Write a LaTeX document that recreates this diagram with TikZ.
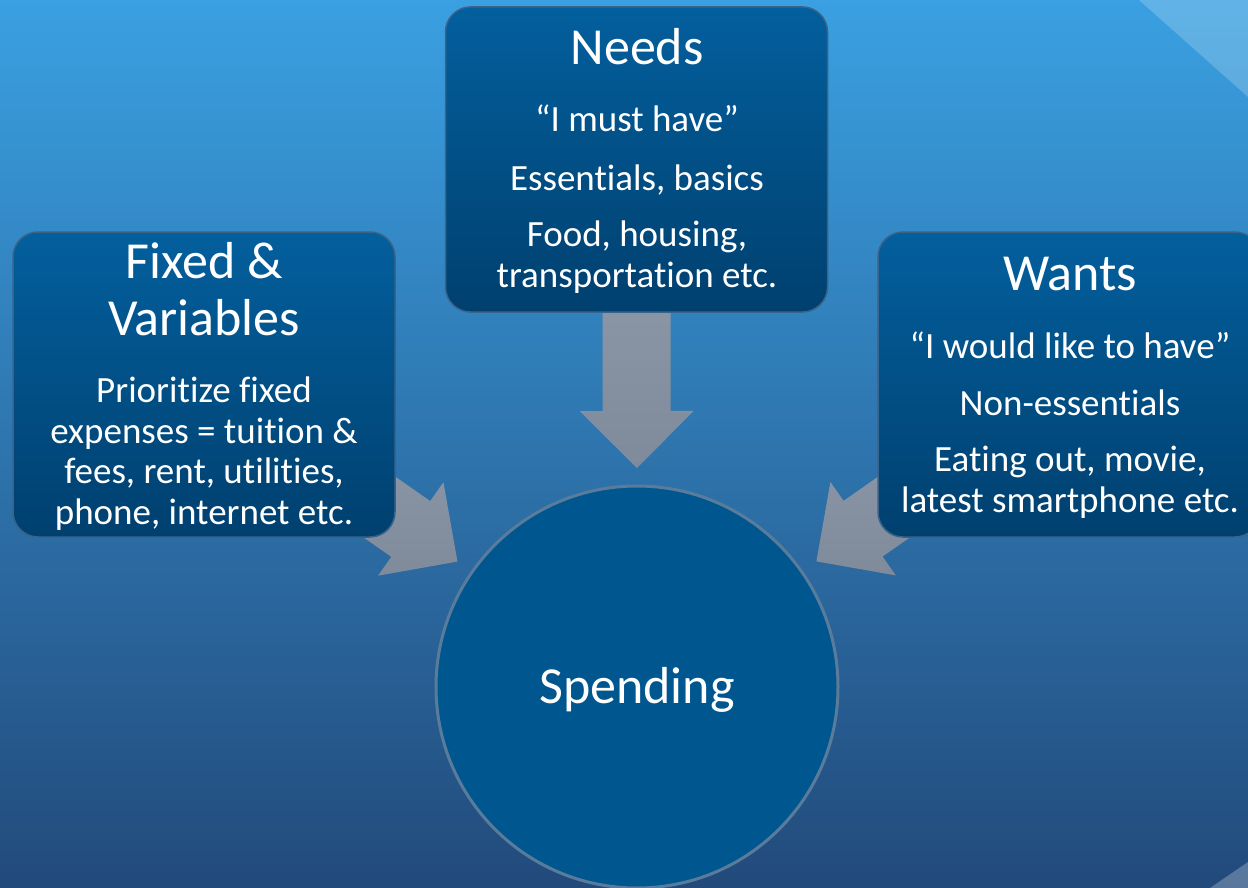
\documentclass[tikz,border=0pt]{standalone}
\usepackage{fontspec}
\setmainfont{Carlito}[Ligatures=NoCommon]
\usetikzlibrary{calc}
\definecolor{bgtop}{HTML}{3AA0E1}
\definecolor{bgbot}{HTML}{224A7B}
\definecolor{boxtop}{HTML}{035F9D}
\definecolor{boxbot}{HTML}{00406F}
\definecolor{boxrim}{HTML}{3A6389}
\definecolor{spendfill}{HTML}{00568F}
\definecolor{spendrim}{HTML}{5A7C9C}
\definecolor{arrtop}{HTML}{939FAF}
\definecolor{arrbot}{HTML}{7F8B9B}
\pgfdeclarelayer{bg}
\pgfsetlayers{bg,main}
\newcommand{\headfont}{\fontsize{52}{57}\selectfont}
\newcommand{\bodyfont}{\fontsize{37}{40.5}\selectfont}
% block arrow from the centre of box #1 towards circle #2
\newcommand{\blockarrow}[2]{%
  \coordinate (#1-tip) at ($(#2.center)!219pt!(#1.center)$);
  \coordinate (#1-head) at ($(#1-tip)!57pt!(#1.center)$);
  \shade[arrowfill] ($(#1.center)!34pt!90:(#1-tip)$) -- ($(#1-head)!34pt!90:(#1-tip)$)
    -- ($(#1-head)!57pt!90:(#1-tip)$) -- (#1-tip) -- ($(#1-head)!57pt!-90:(#1-tip)$)
    -- ($(#1-head)!34pt!-90:(#1-tip)$) -- ($(#1.center)!34pt!-90:(#1-tip)$) -- cycle;}
\begin{document}
\begin{tikzpicture}[x=1pt,y=-1pt,
  box/.style={rounded corners=25pt,minimum width=382pt,minimum height=305pt,top color=boxtop,bottom color=boxbot,draw=boxrim,line width=1.5pt},
  txt/.style={text=white,inner sep=0pt,anchor=base,align=center},
  arrowfill/.style={top color=arrtop,bottom color=arrbot}]
	\useasboundingbox (0,0) rectangle (1248,888);
	\clip (0,0) rectangle (1248,888);
	\node[box] (needs) at (636.5,159.5) {};
	\node[box] (fix) at (204,384.5) {};
	\node[box] (wants) at (1069,384.5) {};
	\node[circle,minimum size=402pt,fill=spendfill,draw=spendrim,line width=3pt,text=white,font=\headfont,text height=42pt,text depth=10pt] (spend) at (637,687) {Spending};
	% texts of the boxes (base = baseline of the last line)
	\node[txt,font=\headfont] (needs-title) at (637,65) {Needs};
	\node[txt,font=\bodyfont] (needs-a) at (637,132) {“I must have”};
	\node[txt,font=\bodyfont] (needs-b) at (637,190) {Essentials, basics};
	\node[txt,font=\bodyfont] (needs-c) at (637,287) {Food, housing,\\transportation etc.};
	\node[txt,font=\headfont] (fix-title) at (204,335) {Fixed \&\\Variables};
	\node[txt,font=\bodyfont] (fix-a) at (204,524) {Prioritize fixed\\expenses = tuition \&\\fees, rent, utilities,\\phone, internet etc.};
	\node[txt,font=\headfont] (wants-title) at (1070,290) {Wants};
	\node[txt,font=\bodyfont] (wants-a) at (1070,358) {“I would like to have”};
	\node[txt,font=\bodyfont] (wants-b) at (1070,415) {Non-essentials};
	\node[txt,font=\bodyfont] (wants-c) at (1070,512) {Eating out, movie,\\latest smartphone etc.};
	\begin{pgfonlayer}{bg}
	\shade[top color=bgtop,bottom color=bgbot] (0,0) rectangle (1248,888);
	\fill[white,opacity=0.2] (1139,0) -- (1248,0) -- (1248,97) -- cycle;
	\fill[white,opacity=0.25] (1210,888) -- (1248,862) -- (1248,888) -- cycle;
	\blockarrow{needs}{spend}
	\blockarrow{fix}{spend}
	\blockarrow{wants}{spend}
	\end{pgfonlayer}
\end{tikzpicture}
\end{document}
